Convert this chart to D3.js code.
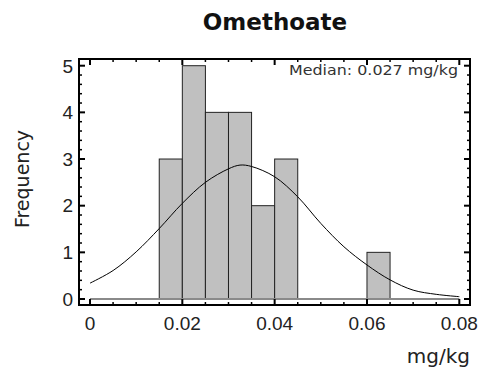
<!DOCTYPE html>
<html><head><meta charset="utf-8">
<script src="https://cdn.jsdelivr.net/npm/d3@7"></script>
<style>html,body{margin:0;padding:0;background:#fff;}svg{display:block;}</style>
</head><body>
<svg id="c" width="486" height="372"></svg>
<script>
// ---- data ----
const binStarts = [0.015, 0.02, 0.025, 0.03, 0.035, 0.04, 0.06];
const binCounts = [3, 5, 4, 4, 2, 3, 1];
const binWidth = 0.005;
const curveX = [0, 0.005, 0.01, 0.015, 0.02, 0.025, 0.03, 0.0325, 0.035, 0.04, 0.045, 0.05, 0.055, 0.06, 0.065, 0.07, 0.075, 0.08];
const curveY = [0.34, 0.61, 1.01, 1.51, 2.05, 2.50, 2.79, 2.87, 2.84, 2.62, 2.19, 1.62, 1.12, 0.73, 0.41, 0.19, 0.10, 0.05];
const xTickValues = [0, 0.02, 0.04, 0.06, 0.08];
const xTickLabels = ["0", "0.02", "0.04", "0.06", "0.08"];
const yTickValues = [0, 1, 2, 3, 4, 5];
const title = "Omethoate";
const xTitle = "mg/kg";
const yTitle = "Frequency";
const note = "Median: 0.027 mg/kg";

// ---- layout ----
const svg = d3.select("#c");
const frame = {l: 79, r: 470, t: 59, b: 305};
const x = d3.scaleLinear().domain([0, 0.08]).range([90, 459.3]);
const y = d3.scaleLinear().domain([0, 5]).range([299, 65.7]);

// bars
svg.append("g").selectAll("rect").data(binStarts).join("rect")
  .attr("x", d => x(d))
  .attr("y", (d, i) => y(binCounts[i]))
  .attr("width", d => x(d + binWidth) - x(d))
  .attr("height", (d, i) => y(0) - y(binCounts[i]))
  .attr("fill", "#c0c0c0")
  .attr("stroke", "#222")
  .attr("stroke-width", 1);

// baseline
svg.append("line")
  .attr("x1", x(0)).attr("x2", x(0.08))
  .attr("y1", y(0)).attr("y2", y(0))
  .attr("stroke", "#8a8a8a").attr("stroke-width", 2);

// curve
const pts = curveX.map((v, i) => [v, curveY[i]]);
svg.append("path")
  .attr("d", d3.line().x(d => x(d[0])).y(d => y(d[1])).curve(d3.curveCatmullRom)(pts))
  .attr("fill", "none").attr("stroke", "#000").attr("stroke-width", 1);

// frame
svg.append("rect")
  .attr("x", frame.l).attr("y", frame.t)
  .attr("width", frame.r - frame.l).attr("height", frame.b - frame.t)
  .attr("fill", "none").attr("stroke", "#000").attr("stroke-width", 2);

// ticks (inward, all four sides)
const xMinor = d3.range(0, 0.0801, 0.005);
const yMinor = d3.range(0, 5.001, 0.2);
const tg = svg.append("g").attr("stroke", "#000");
xMinor.forEach(v => {
  const major = xTickValues.some(t => Math.abs(t - v) < 1e-6);
  const len = major ? 6 : 3;
  tg.append("line").attr("x1", x(v)).attr("x2", x(v)).attr("y1", frame.b).attr("y2", frame.b - len).attr("stroke-width", major ? 2 : 1.5);
  tg.append("line").attr("x1", x(v)).attr("x2", x(v)).attr("y1", frame.t).attr("y2", frame.t + len).attr("stroke-width", major ? 2 : 1.5);
});
yMinor.forEach(v => {
  const major = Math.abs(v - Math.round(v)) < 1e-6;
  const len = major ? 6 : 3;
  tg.append("line").attr("y1", y(v)).attr("y2", y(v)).attr("x1", frame.l).attr("x2", frame.l + len).attr("stroke-width", major ? 2 : 1.5);
  tg.append("line").attr("y1", y(v)).attr("y2", y(v)).attr("x1", frame.r).attr("x2", frame.r - len).attr("stroke-width", major ? 2 : 1.5);
});

// tick labels
svg.append("g").selectAll("text").data(xTickValues).join("text")
  .attr("x", d => x(d)).attr("y", 330)
  .attr("text-anchor", "middle")
  .attr("font-family", "Liberation Sans, Arial, sans-serif").attr("font-size", 19)
  .attr("fill", "#222")
  .text((d, i) => xTickLabels[i]);
svg.append("g").selectAll("text").data(yTickValues).join("text")
  .attr("x", 73).attr("y", d => y(d) + 6.8)
  .attr("text-anchor", "end")
  .attr("font-family", "Liberation Sans, Arial, sans-serif").attr("font-size", 19)
  .attr("fill", "#222")
  .text(d => d);

// titles
svg.append("text").attr("x", 275).attr("y", 30).attr("text-anchor", "middle")
  .attr("font-family", "DejaVu Sans, sans-serif").attr("font-weight", "bold").attr("font-size", 23)
  .attr("fill", "#111").text(title);
svg.append("text").attr("x", 470).attr("y", 363).attr("text-anchor", "end")
  .attr("font-family", "DejaVu Sans, sans-serif").attr("font-size", 20)
  .attr("fill", "#222").text(xTitle);
svg.append("text").attr("transform", "translate(28.5,179) rotate(-90)").attr("text-anchor", "middle")
  .attr("font-family", "DejaVu Sans, sans-serif").attr("font-size", 19)
  .attr("fill", "#222").text(yTitle);
svg.append("text").attr("x", 458).attr("y", 75).attr("text-anchor", "end")
  .attr("font-family", "DejaVu Sans, sans-serif").attr("font-size", 14.5)
  .attr("textLength", 169).attr("lengthAdjust", "spacingAndGlyphs")
  .attr("fill", "#333").text(note);
</script>
</body></html>
